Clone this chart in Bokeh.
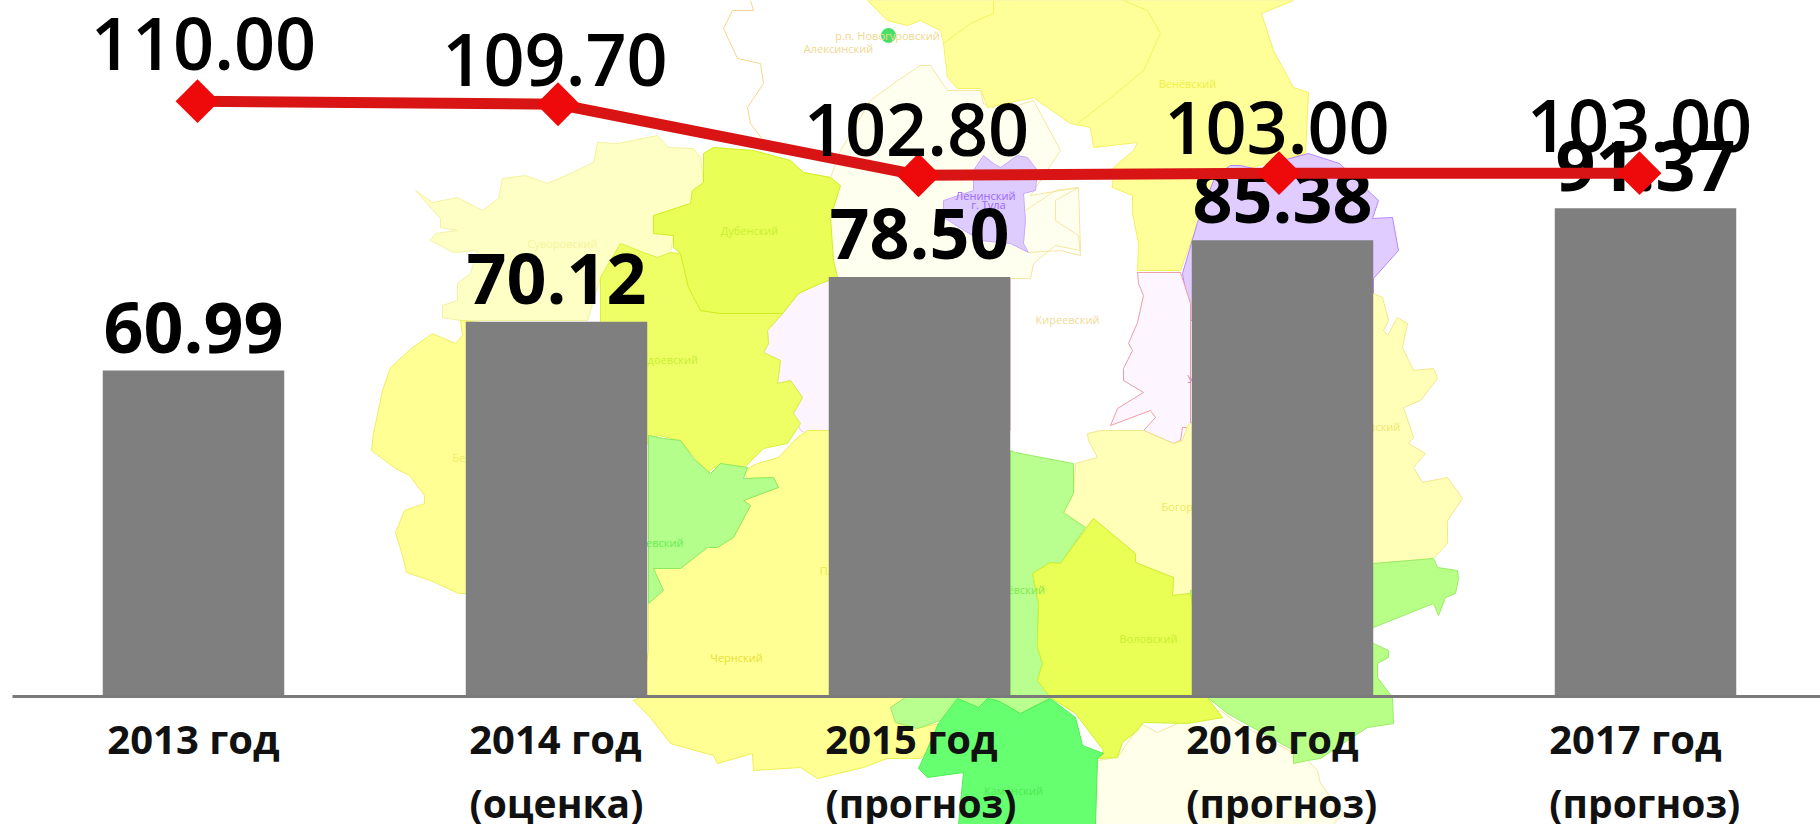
from math import pi

from bokeh.core.properties import value
from bokeh.embed import file_html
from bokeh.models import ColumnDataSource, FixedTicker, Range1d
from bokeh.plotting import figure
from bokeh.resources import INLINE

# ---- chart data -------------------------------------------------------------
categories = ["2013 год", "2014 год", "2015 год", "2016 год", "2017 год"]
category_notes = ["", "(оценка)", "(прогноз)", "(прогноз)", "(прогноз)"]
bar_values = [60.99, 70.12, 78.50, 85.38, 91.37]
line_values = [110.00, 109.70, 102.80, 103.00, 103.00]

# ---- layout of the labels ----------------------------------------------------
line_label_dx = [6, -3, -2, -2, 0]
line_label_dy = [-57, -44, -45, -45, -47]
bar_label_dy = -43
tick_positions = [0, 0.997, 1.978, 2.972, 3.972]
note_dx, note_dy = -86, 106

# ---- background map (decorative picture, page pixels) ------------------------
map_regions = [
    # name, fill, outline, polygon
    ("Суворовский", "#FEFFC4", "#F2F2A0",
     [(415,190),(432,202),(457,197),(482,210),(498,198),(502,178),(525,175),(547,183),(570,173),(593,162),(597,142),(617,143),(657,135),(668,147),(693,148),(700,157),(703,182),(692,190),(690,203),(653,215),(653,233),(673,235),(670,252),(657,257),(643,252),(620,243),(600,277),(587,320),(460,320),(442,317),(442,305),(457,300),(457,283),(470,273),(477,250),(453,252),(430,240),(435,233),(457,230),(440,227),(440,218)]),
    ("Белёвский", "#FFFF94", "#EEEE66",
     [(460,320),(462,335),(455,343),(432,333),(412,347),(390,367),(382,390),(373,433),(371,450),(395,468),(409,475),(424,495),(424,503),(404,510),(395,532),(402,555),(406,572),(415,575),(430,580),(458,593),(560,593),(560,330)]),
    ("Бледный центр", "#FFFFF0", "#F5E6A0",
     [(803,172),(830,177),(840,150),(870,100),(897,80),(920,65),(930,65),(947,90),(980,90),(983,103),(1000,110),(1033,100),(1060,150),(1030,195),(1078,187),(1080,250),(1055,245),(1033,263),(1030,278),(828,278)]),
    ("Ленинский", "#DFCCFF", "#C8A8FF",
     [(983,155),(993,163),(1000,167),(1017,155),(1027,157),(1037,170),(1035,190),(1023,193),(1025,220),(1023,243),(1028,252),(1010,243),(980,240),(943,217),(943,200),(973,190),(973,170)]),
    ("Верхний", "#FFFF99", "#F5F060",
     [(867,0),(887,20),(907,25),(920,20),(940,30),(943,43),(947,77),(957,88),(980,88),(987,107),(1033,97),(1047,107),(1070,123),(1090,127),(1093,147),(1137,142),(1133,150),(1113,167),(1112,187),(1132,195),(1132,213),(1138,243),(1137,270),(1180,270),(1197,223),(1240,170),(1305,153),(1308,92),(1293,87),(1273,50),(1261,13),(1293,0)]),
    ("Новомосковский", "#E0CCFF", "#B888FF",
     [(1230,165),(1240,165),(1262,170),(1282,160),(1308,153),(1339,163),(1378,200),(1372,218),(1392,217),(1398,250),(1373,278),(1373,320),(1190,320),(1182,273),(1197,222),(1215,175)]),
    ("Узловский", "#FDF5FF", "#EE9F9F",
     [(1137,272),(1180,272),(1190,303),(1190,427),(1182,427),(1180,440),(1173,443),(1143,430),(1155,417),(1150,410),(1110,425),(1117,408),(1143,392),(1123,380),(1123,368),(1132,350),(1128,343),(1137,322),(1143,295),(1138,283)]),
    ("Щёкинский", "#FCF5FF", "#F0C8E0",
     [(798,293),(828,278),(1010,278),(1010,430),(828,430),(815,437),(800,430),(793,413),(802,397),(790,380),(777,383),(780,360),(763,352),(768,343),(767,330),(782,313)]),
    ("Одоевский", "#EEFF66", "#DCF040",
     [(620,243),(643,252),(657,257),(670,252),(680,253),(688,287),(700,310),(720,313),(782,313),(767,330),(768,343),(763,352),(780,360),(777,383),(790,380),(802,397),(793,413),(800,423),(787,443),(763,448),(743,468),(713,467),(707,473),(680,440),(658,435),(647,443),(600,500),(600,277)]),
    ("Дубенский", "#E9FF58", "#CFEF20",
     [(703,153),(713,147),(753,150),(790,160),(803,172),(830,177),(840,185),(830,217),(833,260),(837,277),(820,283),(798,293),(782,313),(720,313),(700,310),(688,287),(680,253),(673,247),(673,235),(653,233),(653,215),(690,203),(692,190),(703,182)]),
    ("Чернский", "#FFFF94", "#EEEE55",
     [(648,568),(680,568),(703,545),(733,537),(750,505),(743,500),(778,487),(773,477),(747,478),(743,470),(757,463),(778,457),(797,437),(807,430),(830,430),(830,697),(905,697),(890,707),(895,722),(917,728),(938,723),(925,753),(920,758),(887,758),(863,767),(817,778),(800,767),(753,770),(752,753),(717,763),(713,755),(670,743),(650,717),(633,700),(640,697),(648,650)]),
    ("Арсеньевский", "#B4FF8C", "#8EE860",
     [(648,435),(663,438),(680,440),(693,458),(710,473),(720,463),(747,467),(743,478),(773,477),(778,487),(743,500),(750,505),(733,537),(717,547),(707,547),(680,568),(653,568),(663,590),(648,603)]),
    ("Ефремовский", "#FFFFEA", "#F5E6A0",
     [(1097,760),(1117,757),(1140,723),(1157,732),(1177,723),(1220,710),(1233,720),(1307,760),(1317,770),(1320,783),(1343,813),(1333,824),(1093,824)]),
    ("Правый бледный", "#FFFFB8", "#F2E88A",
     [(1088,440),(1087,433),(1100,430),(1143,430),(1173,443),(1182,440),(1187,425),(1373,293),(1382,297),(1388,320),(1383,330),(1387,335),(1397,317),(1407,323),(1402,347),(1413,370),(1433,368),(1437,378),(1420,400),(1403,407),(1413,437),(1408,443),(1425,453),(1413,467),(1422,482),(1447,477),(1462,498),(1447,520),(1447,543),(1433,558),(1373,563),(1190,593),(1172,595),(1173,577),(1135,562),(1135,553),(1093,518),(1085,527),(1063,512),(1073,493),(1075,463),(1097,457)]),
    ("Киреевский зелёный", "#B8FF88", "#98EE66",
     [(1373,563),(1433,558),(1437,567),(1457,570),(1458,578),(1455,593),(1445,597),(1438,615),(1433,603),(1373,627),(1340,640),(1373,643),(1388,650),(1388,657),(1377,663),(1377,677),(1392,697),(1393,723),(1367,727),(1347,740),(1320,758),(1307,760),(1293,763),(1293,750),(1227,713),(1207,697),(1190,680),(1190,590)]),
    ("Тёпло-Огарёвский", "#B8FF90", "#98EE66",
     [(1010,450),(1015,452),(1073,463),(1073,493),(1063,512),(1085,527),(1060,563),(1050,562),(1032,573),(1038,603),(1037,647),(1042,663),(1037,680),(1052,687),(1050,697),(1020,713),(990,700),(960,720),(940,720),(917,728),(895,722),(890,707),(905,697),(1010,697)]),
    ("Воловский", "#E9FF55", "#CFEF30",
     [(1093,518),(1135,553),(1135,562),(1173,577),(1172,595),(1190,593),(1207,697),(1222,717),(1187,723),(1143,722),(1137,730),(1122,742),(1117,757),(1097,758),(1103,750),(1075,713),(1050,697),(1037,680),(1042,663),(1037,647),(1038,603),(1032,573),(1050,562),(1060,563)]),
    ("Каменский", "#66FF70", "#50EE55",
     [(957,698),(978,707),(987,698),(997,700),(1020,713),(1050,698),(1075,717),(1082,745),(1103,753),(1097,758),(1095,824),(958,824),(963,772),(927,777),(918,768),(925,753),(938,723)]),
]
map_lines = [
    ("#F5D78C", [(750,0),(753,10),(732,10),(723,28),(737,58),(760,63),(763,83),(747,107),(750,123),(763,140)]),
    ("#F5F060", [(993,0),(993,13),(970,23),(943,43)]),
    ("#F5F060", [(1123,0),(1147,10),(1160,33),(1143,70),(1107,100),(1077,123)]),
    ("#F5E6A0", [(1025,210),(1055,190),(1078,187),(1055,200),(1055,220),(1078,235),(1080,255),(1060,250),(1028,252)]),
]
map_text = ["р.п. Новогуровский", "Алексинский", "Суворовский", "Дубенский", "Одоевский",
            "Ленинский", "г. Тула", "Киреевский", "Узловский", "Венёвский", "Богородицкий",
            "Воловский", "Чернский", "Плавский", "Каменский", "Арсеньевский",
            "Тёпло-Огарёвский", "Белёвский", "Кимовский"]
map_text_x = [887, 838, 562, 749, 668, 985, 988, 1067, 1215, 1187, 1200, 1148, 736, 845, 1013, 645, 995, 480, 1370]
map_text_y = [35, 48, 243, 230, 359, 195, 204, 319, 378, 83, 506, 638, 657, 570, 790, 542, 589, 457, 426]
map_text_c = ["#F0D890", "#F0D890", "#F4F49C", "#C8EE30", "#C8EE30", "#9966FF", "#9966FF", "#F0DC98",
              "#E080C8", "#EEEE44", "#F0E860", "#C8EE30", "#E8E030", "#EEE850", "#50E850", "#66EE55",
              "#80E850", "#EEEE66", "#EEE870"]
dot_x, dot_y = [888], [35]

# ---- figure --------------------------------------------------------------------
W, H = 1820, 824
PAGE = 0
BAR_PX, BAR_STEP = 193, 363
LINE_PX, LINE_STEP = 197, 360.5
BASE_PX, BAR_SCALE = 696, 5.345
L103_PX, L_SCALE = 172.7, 10.29
FONT = "Open Sans"

p = figure(width=W, height=H, output_backend="svg", toolbar_location=None,
           x_range=Range1d((PAGE - BAR_PX) / BAR_STEP, (PAGE + W - BAR_PX) / BAR_STEP),
           y_range=Range1d((BASE_PX - PAGE - H) / BAR_SCALE, (BASE_PX - PAGE) / BAR_SCALE),
           min_border=0, outline_line_color=None, background_fill_color="white",
           border_fill_color="white")
p.grid.visible = False
p.yaxis.visible = False

p.extra_x_ranges = {"line": Range1d((PAGE - LINE_PX) / LINE_STEP, (PAGE + W - LINE_PX) / LINE_STEP),
                    "px": Range1d(PAGE, PAGE + W)}
p.extra_y_ranges = {"line": Range1d(103 - (PAGE + H - L103_PX) / L_SCALE, 103 + (L103_PX - PAGE) / L_SCALE),
                    "px": Range1d(PAGE + H, PAGE)}

# map
for name, fill, edge, poly in map_regions:
    p.patch([a for a, _ in poly], [b for _, b in poly], fill_color=fill, line_color=edge, line_width=1,
            x_range_name="px", y_range_name="px")
for color, poly in map_lines:
    p.line([a for a, _ in poly], [b for _, b in poly], line_color=color, line_width=1,
           x_range_name="px", y_range_name="px")
p.scatter(dot_x, dot_y, size=15, marker="circle", fill_color="#46E068", line_color=None,
          x_range_name="px", y_range_name="px")
p.text(map_text_x, map_text_y, text=map_text, text_color=map_text_c, text_font=value(FONT),
       text_font_size="11px", text_align="center", text_baseline="middle",
       x_range_name="px", y_range_name="px")

xs = list(range(len(categories)))

# bars
p.vbar(x=xs, top=bar_values, bottom=0, width=0.5, fill_color="#7F7F7F", line_color=None)
bar_src = ColumnDataSource(dict(x=xs, y=bar_values, t=[f"{v:.2f}" for v in bar_values]))
p.text("x", "y", text="t", source=bar_src, y_offset=bar_label_dy, text_align="center",
       text_baseline="alphabetic", text_color="black", text_font=value(FONT), text_font_style="bold",
       text_font_size="70px")

# line
p.line(xs, line_values, line_color="#D81414", line_width=11, line_join="miter",
       x_range_name="line", y_range_name="line")
p.scatter(xs, line_values, marker="square", angle=pi / 4, size=31, fill_color="#EE0A0A", line_color=None,
          x_range_name="line", y_range_name="line")
line_src = ColumnDataSource(dict(x=xs, y=line_values, t=[f"{v:.2f}" for v in line_values],
                                 dx=line_label_dx, dy=line_label_dy))
p.text("x", "y", text="t", source=line_src, x_offset="dx", y_offset="dy", text_align="center",
       text_baseline="alphabetic", text_color="black", text_font=value("Open Sans SemiBold"),
       text_font_size="72px", x_range_name="line", y_range_name="line")

# axis
ax = p.xaxis[0]
ax.fixed_location = 0
ax.bounds = ((12 - BAR_PX) / BAR_STEP, (PAGE + W - BAR_PX) / BAR_STEP)
ax.ticker = FixedTicker(ticks=tick_positions)
ax.major_label_overrides = {t: c for t, c in zip(tick_positions, categories)}
ax.major_tick_line_color = None
ax.minor_tick_line_color = None
ax.axis_line_color = "#7A7A7A"
ax.axis_line_width = 3
ax.major_label_standoff = 8
ax.major_label_orientation = "horizontal"
ax.major_label_text_font = FONT
ax.major_label_text_font_style = "bold"
ax.major_label_text_font_size = "40px"
ax.major_label_text_color = "#111111"

# second line of the category labels, left-aligned with the first
note_ticks = [t for t, n in zip(tick_positions, category_notes) if n]
note_text = [n for n in category_notes if n]
p.text(note_ticks, [0] * len(note_ticks), text=note_text, x_offset=note_dx, y_offset=note_dy,
       text_align="left", text_baseline="middle", text_color="#111111", text_font=value(FONT),
       text_font_style="bold", text_font_size="39px")

open("out.html", "w").write(file_html(p, INLINE))
